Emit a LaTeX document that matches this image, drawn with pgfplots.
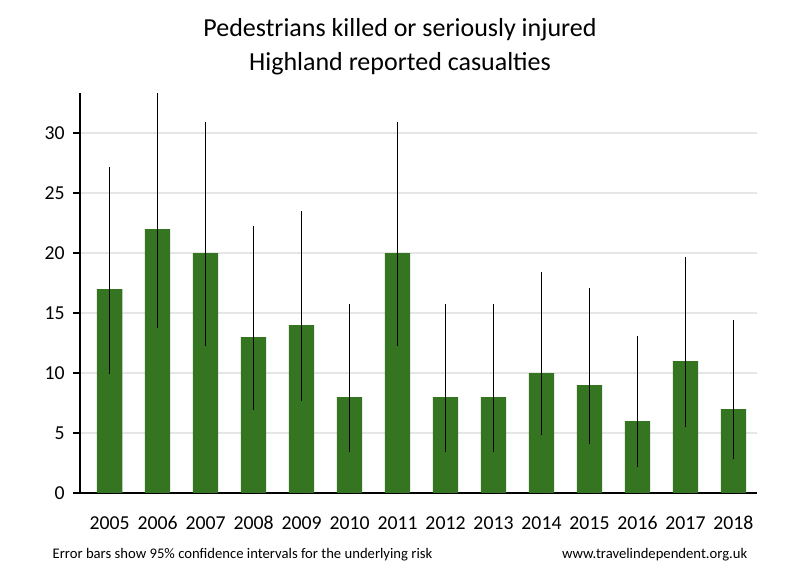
\documentclass[border=0pt]{standalone}
\usepackage{pgfplots}
\pgfplotsset{compat=1.18}
\usepackage{fontspec}
\setmainfont{Carlito}
\definecolor{bargreen}{RGB}{53,117,33}
\definecolor{gridgray}{RGB}{230,230,230}
\begin{document}
\begin{tikzpicture}
\useasboundingbox (-60pt,-65.25pt) rectangle (540pt,369.75pt);
\begin{axis}[
  at={(0,0)}, anchor=south west,
  scale only axis,
  width=507.75pt, height=300pt,
  xmin=-0.615, xmax=13.49,
  ymin=0, ymax=33.35,
  axis lines=left,
  axis line style={line width=1.5pt,-},
  ytick={0,5,...,30},
  xtick={0,...,13},
  xticklabels={2005,2006,2007,2008,2009,2010,2011,2012,2013,2014,2015,2016,2017,2018},
  major x tick style={draw=none},
  major y tick style={line width=1.2pt,black},
  tick align=outside,
  major tick length=5pt,
  ymajorgrids,
  grid style={gridgray,line width=1.5pt},
  tick label style={font=\fontsize{14.8pt}{17pt}\selectfont},
  /pgf/number format/assume math mode=true,
  xticklabel style={yshift=-9pt},
  yticklabel style={xshift=-3pt},
  clip=false,
]
\addplot[ybar, bar width=19.1pt, fill=bargreen, draw=none,
  error bars/.cd, y dir=both, y explicit, error mark=none,
  error bar style={black,line width=0.75pt}]
coordinates {
  (0,17) += (0,10.22) -= (0,7.10)
  (1,22) += (0,11.31) -= (0,8.21)
  (2,20) += (0,10.89) -= (0,7.78)
  (3,13) += (0,9.23) -= (0,6.08)
  (4,14) += (0,9.49) -= (0,6.35)
  (5,8) += (0,7.76) -= (0,4.55)
  (6,20) += (0,10.89) -= (0,7.78)
  (7,8) += (0,7.76) -= (0,4.55)
  (8,8) += (0,7.76) -= (0,4.55)
  (9,10) += (0,8.39) -= (0,5.20)
  (10,9) += (0,8.08) -= (0,4.88)
  (11,6) += (0,7.06) -= (0,3.80)
  (12,11) += (0,8.68) -= (0,5.51)
  (13,7) += (0,7.42) -= (0,4.19)
};
\end{axis}
\node[font=\fontsize{19.5pt}{22pt}\selectfont] at (240pt,347.5pt) {Pedestrians killed or seriously injured};
\node[font=\fontsize{19.5pt}{22pt}\selectfont] at (240pt,322pt) {Highland reported casualties};
\node[font=\fontsize{11pt}{13pt}\selectfont, anchor=west] at (-24pt,-46.5pt) {Error bars show 95\% confidence intervals for the underlying risk};
\node[font=\fontsize{11pt}{13pt}\selectfont, anchor=east] at (504pt,-46.5pt) {www.travelindependent.org.uk};
\end{tikzpicture}
\end{document}
